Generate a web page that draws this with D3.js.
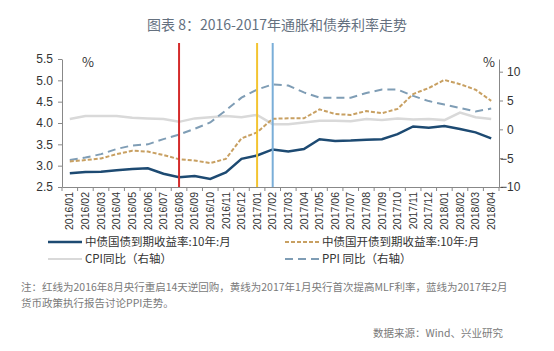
<!DOCTYPE html>
<html lang="zh">

<head>
    <meta charset="UTF-8" />
    <script type="text/javascript" src="https://cdn.jsdelivr.net/npm/d3@7/dist/d3.min.js"></script>
    <style>
        body { margin: 0; background: #fff; }
        svg text { font-family: "Noto Sans CJK SC", "Liberation Sans", sans-serif; }
    </style>
    <title>2016-2017年通胀和债券利率走势</title>
</head>

<body>
    <div id="chart"></div>

    <script type="text/javascript">
        // data
        var months = ["2016/01", "2016/02", "2016/03", "2016/04", "2016/05", "2016/06", "2016/07",
            "2016/08", "2016/09", "2016/10", "2016/11", "2016/12", "2017/01", "2017/02", "2017/03",
            "2017/04", "2017/05", "2017/06", "2017/07", "2017/08", "2017/09", "2017/10", "2017/11",
            "2017/12", "2018/01", "2018/02", "2018/03", "2018/04"];

        var govYield = [2.82, 2.85, 2.86, 2.89, 2.92, 2.94, 2.81, 2.73, 2.76, 2.69, 2.84, 3.16, 3.24, 3.38,
            3.33, 3.39, 3.62, 3.58, 3.59, 3.61, 3.62, 3.74, 3.92, 3.89, 3.93, 3.86, 3.78, 3.64];
        var cdbYield = [3.10, 3.13, 3.17, 3.27, 3.35, 3.33, 3.25, 3.15, 3.12, 3.06, 3.16, 3.64, 3.78, 4.10,
            4.11, 4.11, 4.32, 4.21, 4.19, 4.28, 4.23, 4.33, 4.68, 4.82, 5.01, 4.91, 4.78, 4.52];
        var cpi = [1.8, 2.3, 2.3, 2.3, 2.0, 1.9, 1.8, 1.3, 1.9, 2.1, 2.3, 2.1, 2.5, 0.9,
            0.9, 1.2, 1.5, 1.5, 1.4, 1.8, 1.6, 1.9, 1.7, 1.8, 1.6, 2.9, 2.1, 1.8];
        var ppi = [-5.3, -4.9, -4.3, -3.4, -2.8, -2.6, -1.7, -0.9, 0.1, 1.2, 3.3, 5.5, 6.9, 7.8,
            7.6, 6.4, 5.5, 5.5, 5.5, 6.3, 6.9, 6.9, 5.8, 4.9, 4.3, 3.7, 3.1, 3.6];

        var leftTicks = [2.5, 3.0, 3.5, 4.0, 4.5, 5.0, 5.5];
        var rightTicks = [-10, -5, 0, 5, 10];
        var eventMonths = ["2016/08", "2017/01", "2017/02"];

        var seriesNames = ["中债国债到期收益率:10年:月", "中债国开债到期收益率:10年:月", "CPI同比（右轴）", "PPI 同比（右轴）"];

        var eventColors = ["#d42b2b", "#f3c431", "#7aaed8"];

        var svgW = 554, svgH = 351;
        var margin = { top: 59, right: 55, bottom: 164, left: 62 },
            width = svgW - margin.left - margin.right,
            height = svgH - margin.top - margin.bottom;

        var root = d3.select("#chart")
            .append("svg")
            .attr("width", svgW)
            .attr("height", svgH);

        // title
        root.append("text")
            .attr("x", svgW / 2)
            .attr("y", 30)
            .attr("text-anchor", "middle")
            .style("font-size", "14px")
            .style("fill", "#65717f")
            .text("图表 8：2016-2017年通胀和债券利率走势");

        var svg = root.append("g")
            .attr("transform", `translate(${margin.left}, ${margin.top})`);

        var x = d3.scaleBand()
            .domain(months)
            .range([0, width]);

        var yL = d3.scaleLinear()
            .domain([2.5, 5.5])
            .range([height, 0]);

        var yR = d3.scaleLinear()
            .domain([-10, 12.2])
            .range([height, 0]);

        function cx(i) { return x(months[i]) + x.bandwidth() / 2; }

        // left axis
        var gL = svg.append("g")
            .call(d3.axisLeft(yL).tickValues(leftTicks).tickFormat(d3.format(".1f"))
                .tickSize(4).tickSizeOuter(0).tickPadding(5));
        gL.selectAll("text").style("font-size", "12px").style("font-family", "Liberation Sans, Arial, sans-serif").style("fill", "#333");

        // right axis
        var gR = svg.append("g")
            .attr("transform", `translate(${width}, 0)`)
            .call(d3.axisRight(yR).tickValues(rightTicks)
                .tickFormat(function (d) { return d < 0 ? "\u2212" + Math.abs(d) : d; })
                .tickSize(4).tickSizeOuter(0).tickPadding(4));
        gR.selectAll("text")
            .style("font-size", "12px").style("font-family", "Liberation Sans, Arial, sans-serif").style("fill", "#333")
            .attr("dx", function (d) { return d < 0 ? "-0.584em" : 0; });

        // bottom axis, ticks between categories
        var gX = svg.append("g")
            .attr("transform", `translate(0, ${height})`)
            .call(d3.axisBottom(x).tickSize(0).tickSizeOuter(0));
        gX.selectAll("text")
            .attr("transform", "rotate(-90)")
            .attr("x", -5)
            .attr("y", 0)
            .attr("dy", ".35em")
            .style("text-anchor", "end")
            .style("font-size", "10.5px")
            .style("font-family", "Liberation Sans, Arial, sans-serif")
            .style("fill", "#333");
        gX.selectAll(".edge")
            .data(months.concat(["end"]))
            .enter().append("line")
            .attr("class", "edge")
            .attr("x1", function (d, i) { return i < months.length ? x(d) : width; })
            .attr("x2", function (d, i) { return i < months.length ? x(d) : width; })
            .attr("y1", 0)
            .attr("y2", 4)
            .attr("stroke", "#888");

        root.selectAll(".domain, .tick line").attr("stroke", "#888");

        // percent labels
        svg.append("text").attr("x", 26).attr("y", 8).attr("text-anchor", "middle")
            .style("font-size", "13px").style("fill", "#333").text("%");
        svg.append("text").attr("x", width - 10).attr("y", 8).attr("text-anchor", "middle")
            .style("font-size", "13px").style("fill", "#333").text("%");

        // lines
        var lineL = d3.line().x(function (d, i) { return cx(i); }).y(function (d) { return yL(d); });
        var lineR = d3.line().x(function (d, i) { return cx(i); }).y(function (d) { return yR(d); });

        var styles = [
            { data: cpi, line: lineR, color: "#d9d9d9", w: 2.5, dash: null },
            { data: ppi, line: lineR, color: "#7f9db5", w: 2, dash: "8,5" },
            { data: cdbYield, line: lineL, color: "#c8a062", w: 2, dash: "4,2" },
            { data: govYield, line: lineL, color: "#1d4a72", w: 2.5, dash: null }
        ];

        styles.forEach(function (s) {
            svg.append("path")
                .datum(s.data)
                .attr("fill", "none")
                .attr("stroke", s.color)
                .attr("stroke-width", s.w)
                .attr("stroke-dasharray", s.dash)
                .attr("d", s.line);
        });

        // event markers
        svg.selectAll(".event")
            .data(eventMonths)
            .enter().append("line")
            .attr("class", "event")
            .attr("x1", function (d) { return x(d) + x.bandwidth() / 2; })
            .attr("x2", function (d) { return x(d) + x.bandwidth() / 2; })
            .attr("y1", -16)
            .attr("y2", height)
            .attr("stroke", function (d, i) { return eventColors[i]; })
            .attr("stroke-width", 2);

        // legend
        var legendItems = [
            { name: seriesNames[0], color: "#1d4a72", w: 2.5, dash: null, lx: 48, ly: 242 },
            { name: seriesNames[1], color: "#c8a062", w: 2, dash: "4,2", lx: 285, ly: 242 },
            { name: seriesNames[2], color: "#d9d9d9", w: 2, dash: null, lx: 48, ly: 259 },
            { name: seriesNames[3], color: "#7f9db5", w: 2, dash: "8,5", lx: 285, ly: 259 }
        ];

        var legend = root.selectAll(".legend")
            .data(legendItems)
            .enter().append("g")
            .attr("class", "legend")
            .attr("transform", function (d) { return "translate(" + d.lx + "," + d.ly + ")"; });

        legend.append("line")
            .attr("x1", 0).attr("x2", 34)
            .attr("stroke", function (d) { return d.color; })
            .attr("stroke-width", function (d) { return d.w; })
            .attr("stroke-dasharray", function (d) { return d.dash; });

        legend.append("text")
            .attr("x", 37)
            .attr("dy", "0.35em")
            .style("font-size", "11.5px")
            .style("fill", "#333")
            .text(function (d) { return d.name; });

        // notes
        var notes = ["注：红线为2016年8月央行重启14天逆回购，黄线为2017年1月央行首次提高MLF利率，蓝线为2017年2月",
            "货币政策执行报告讨论PPI走势。"];
        root.selectAll(".note")
            .data(notes)
            .enter().append("text")
            .attr("class", "note")
            .attr("x", 21)
            .attr("y", function (d, i) { return 291 + i * 16; })
            .style("font-size", "10.5px")
            .style("fill", "#7a7a7a")
            .text(function (d) { return d; });

        root.append("text")
            .attr("x", 503)
            .attr("y", 337)
            .attr("text-anchor", "end")
            .style("font-size", "10.5px")
            .style("fill", "#7a7a7a")
            .text("数据来源：Wind、兴业研究");
    </script>
</body>

</html>
